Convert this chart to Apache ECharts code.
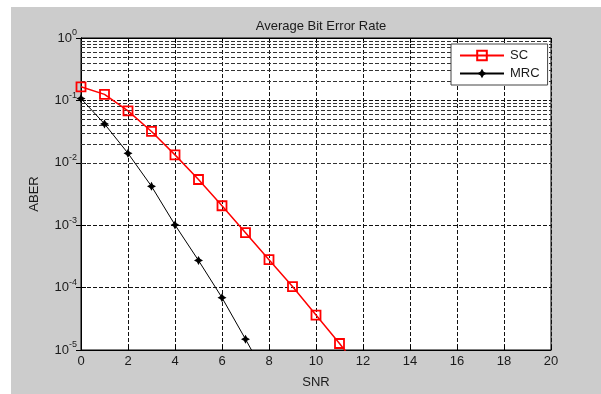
<!DOCTYPE html>
<html>
<head>
<meta charset="utf-8">
<script src="https://cdn.jsdelivr.net/npm/echarts@6/dist/echarts.min.js"></script>
<style>
html,body{margin:0;padding:0;background:#fff;}
#chart{width:601px;height:394px;}
</style>
</head>
<body>
<div id="chart"></div>
<script>
// SNR values (dB)
const snr = [0, 1, 2, 3, 4, 5, 6, 7, 8, 9, 10, 11, 12];
// Average bit error rate, selection combining
const scBer = [0.165, 0.125, 0.068, 0.0318, 0.0134, 0.0054, 0.00205, 0.00076, 0.00028, 0.000104, 0.0000363, 0.0000127, 0.0000042];
// Average bit error rate, maximal ratio combining
const mrcBer = [0.107, 0.042, 0.0142, 0.0042, 0.00101, 0.000272, 0.0000689, 0.0000149, 0.0000031];
const xTicks = [0, 2, 4, 6, 8, 10, 12, 14, 16, 18, 20];
const yDecades = [-5, -4, -3, -2, -1, 0];

const FONT = '"Liberation Sans", Arial, sans-serif';
const TXT = '#1a1a1a';

// dashed lines at 2..9 x 10^k for the log grid
const minorLines = [];
for (let k = yDecades[0]; k < yDecades[yDecades.length - 1]; k++) {
  for (let m = 2; m <= 9; m++) minorLines.push({ yAxis: m * Math.pow(10, k) });
}

const gridDash = { color: '#111', width: 1, type: [4, 2] };
const minorDash = { color: '#333', width: 1, type: [4, 2] };
const star = 'path://M0,-5 L1.8,-1.8 L5,0 L1.8,1.8 L0,5 L-1.8,1.8 L-5,0 L-1.8,-1.8 Z';

const chart = echarts.init(document.getElementById('chart'), null, { renderer: 'canvas' });
chart.setOption({
  backgroundColor: '#fff',
  animation: false,
  graphic: [{
    type: 'rect', z: -10, silent: true,
    shape: { x: 11, y: 7, width: 590, height: 387 },
    style: { fill: '#cccccc' }
  }],
  title: {
    text: 'Average Bit Error Rate',
    left: 316, top: 15, textAlign: 'center',
    textStyle: { fontFamily: FONT, fontSize: 13, fontWeight: 'normal', color: TXT }
  },
  grid: {
    left: 81, top: 38, right: 50, bottom: 32,
    show: true, backgroundColor: '#fff', borderColor: '#000', borderWidth: 1
  },
  legend: {
    left: 451, top: 44, orient: 'vertical',
    padding: [5, 8, 5, 8], itemGap: 5,
    itemWidth: 44, itemHeight: 12,
    backgroundColor: '#fff', borderColor: '#444', borderWidth: 1,
    textStyle: { fontFamily: FONT, fontSize: 13, color: TXT, padding: [0, 0, 0, 1] },
    data: ['SC', 'MRC']
  },
  xAxis: [{
    type: 'value', min: 0, max: 20, interval: 2,
    name: 'SNR', nameLocation: 'middle', nameGap: 26,
    nameTextStyle: { fontFamily: FONT, fontSize: 13, color: TXT },
    axisLine: { show: true, lineStyle: { color: '#000' } },
    axisTick: { inside: true, length: 5, lineStyle: { color: '#000' } },
    axisLabel: {
      margin: 5, fontFamily: FONT, fontSize: 13, color: TXT,
      customValues: xTicks
    },
    splitLine: { show: true, lineStyle: gridDash }
  }, {
    type: 'value', min: 0, max: 20, interval: 2, position: 'top',
    axisLine: { show: true, lineStyle: { color: '#000' } },
    axisTick: { inside: true, length: 5, lineStyle: { color: '#000' } },
    axisLabel: { show: false }, splitLine: { show: false }
  }],
  yAxis: [{
    type: 'log', logBase: 10, min: 1e-5, max: 1,
    name: 'ABER', nameLocation: 'middle', nameGap: 40, nameRotate: 90,
    nameTextStyle: { fontFamily: FONT, fontSize: 13, color: TXT },
    axisLine: { show: true, lineStyle: { color: '#000' } },
    axisTick: { inside: true, length: 5, lineStyle: { color: '#000' } },
    axisLabel: {
      margin: 4,
      formatter: function (v) {
        const e = Math.round(Math.log10(v));
        return '{b|10}{e|' + e + '}';
      },
      rich: {
        b: { fontFamily: FONT, fontSize: 13, color: TXT },
        e: { fontFamily: FONT, fontSize: 9, color: TXT, padding: [0, 0, 10, 0] }
      }
    },
    splitLine: { show: true, lineStyle: gridDash }
  }, {
    type: 'log', logBase: 10, min: 1e-5, max: 1, position: 'right',
    axisLine: { show: true, lineStyle: { color: '#000' } },
    axisTick: { inside: true, length: 5, lineStyle: { color: '#000' } },
    axisLabel: { show: false }, splitLine: { show: false }
  }],
  series: [{
    name: 'SC', type: 'line', xAxisIndex: 0, yAxisIndex: 0, z: 5,
    data: snr.slice(0, scBer.length).map((x, i) => [x, scBer[i]]),
    symbol: 'rect', symbolSize: 9,
    lineStyle: { color: '#ff0000', width: 1.5 },
    itemStyle: { color: 'rgba(255,255,255,0)', borderColor: '#ff0000', borderWidth: 1.8 },
    markLine: {
      silent: true, symbol: 'none', label: { show: false },
      lineStyle: minorDash, z: 1,
      data: minorLines
    }
  }, {
    name: 'MRC', type: 'line', xAxisIndex: 0, yAxisIndex: 0, z: 6,
    data: snr.slice(0, mrcBer.length).map((x, i) => [x, mrcBer[i]]),
    symbol: star, symbolSize: 9,
    lineStyle: { color: '#000', width: 1 },
    itemStyle: { color: '#000' }
  }]
});
</script>
</body>
</html>
